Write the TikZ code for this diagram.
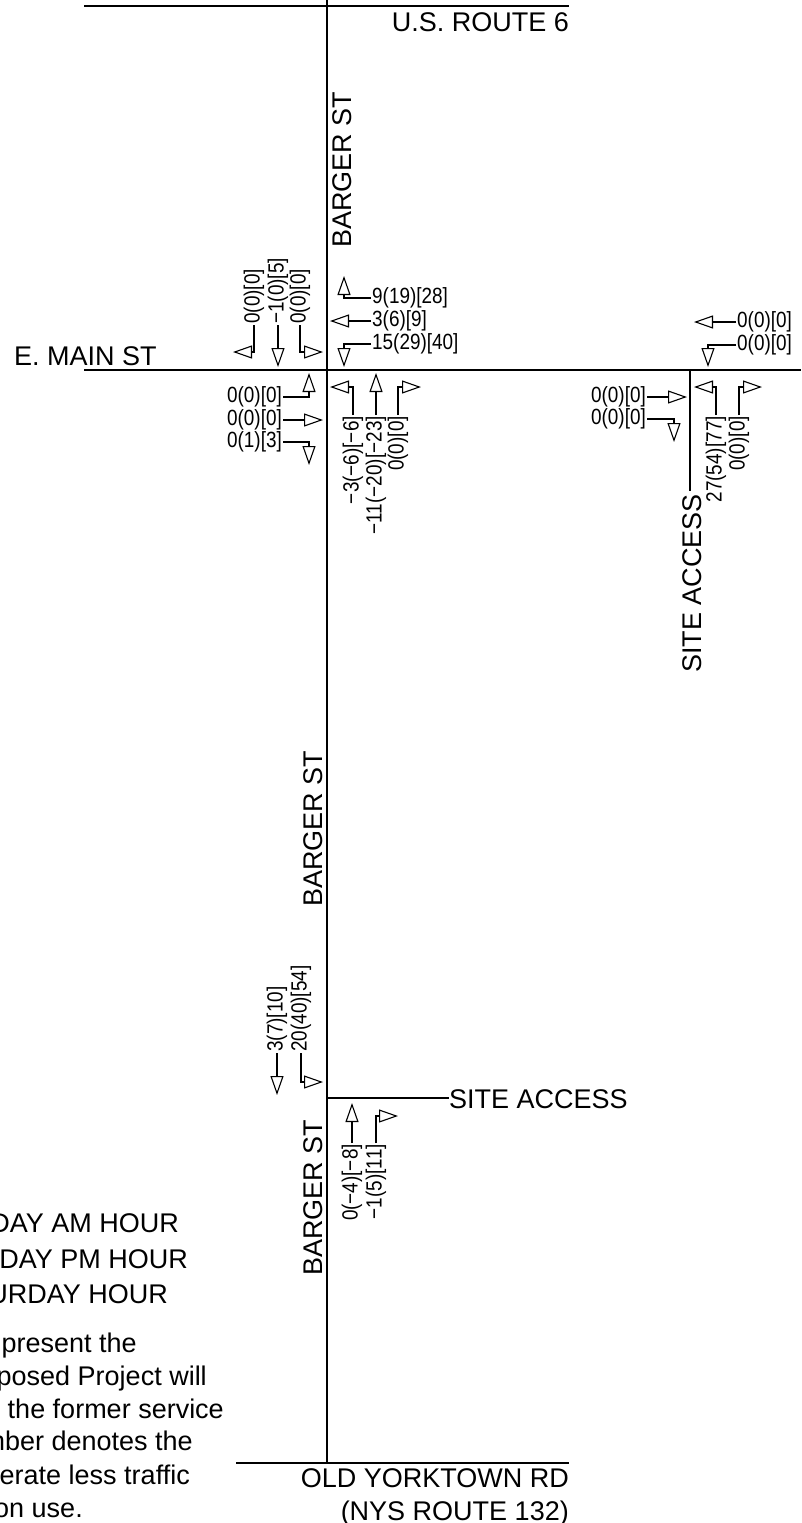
\documentclass[tikz,border=0pt]{standalone}
\usepackage{xcolor}
\usepackage{fontspec}
\setmainfont{Liberation Sans}
\newfontfamily\volfont[FakeStretch=0.86]{Liberation Sans}
\usetikzlibrary{arrows.meta, positioning}
\definecolor{mydark}{RGB}{0,0,0}
\tikzset{
  road/.style={line width=1.8pt, color=mydark},
  turnarrow/.style={-{Triangle[open, length=19pt, width=13pt, line width=1.1pt]}, line width=1.1pt, color=mydark},
  volume/.style={font=\volfont\fontsize{22}{23}\selectfont, inner sep=1pt, color=mydark},
  volup/.style={volume, rotate=90},
  streetname/.style={font=\fontsize{27}{29}\selectfont, inner sep=0pt, color=mydark},
  notetext/.style={font=\fontsize{27}{29}\selectfont, inner sep=0pt, color=mydark}
}
\begin{document}
\begin{tikzpicture}[x=1pt, y=-1pt]
  \useasboundingbox (0,0) rectangle (801,1523);
  \clip (0,0) rectangle (801,1523);

  % Roads
  \coordinate (routeWest) at (84,6);
  \coordinate (routeEast) at (569,6);
  \coordinate (bargerTop) at (327,0);
  \coordinate (bargerBottom) at (327,1463);
  \coordinate (yorktownWest) at (236,1463);
  \coordinate (yorktownEast) at (569,1463);
  \coordinate (mainWest) at (84,370);
  \coordinate (mainEast) at (801,370);
  \coordinate (accessTop) at (690,370);
  \coordinate (accessEnd) at (690,491);
  \coordinate (accessJoin) at (327,1098);
  \draw[road] (routeWest) -- (routeEast);
  \draw[road] (bargerTop) -- (bargerBottom);
  \draw[road] (yorktownWest) -- (yorktownEast);
  \draw[road] (mainWest) -- (mainEast);

  % Street names
  \node[streetname, anchor=base east] (routeSix) at (569,31) {U.S. ROUTE 6};
  \node[streetname, anchor=base west, rotate=90] (bargerNorth) at (351,248) {BARGER ST};
  \node[streetname, anchor=base west, rotate=90] (bargerMid) at (322,907) {BARGER ST};
  \node[streetname, anchor=base west, rotate=90] (bargerSouth) at (322,1276) {BARGER ST};
  \node[streetname, anchor=base west] (mainSt) at (14,365) {E. MAIN ST};
  \node[streetname, anchor=base west, rotate=90] (accessNorth) at (701,673) {SITE ACCESS};
  \node[streetname, anchor=base west] (accessEast) at (449,1108) {SITE ACCESS};
  \node[streetname, anchor=base east] (yorktown) at (569,1487) {OLD YORKTOWN RD};
  \node[streetname, anchor=base east] (nysRoute) at (569,1520) {(NYS ROUTE 132)};
  \draw[road] (accessTop) -- (accessEnd);
  \draw[road] (accessJoin) -- (accessEast.west |- accessJoin);

  % Legend and note
  \node[notetext, anchor=base east] (legendAm) at (179,1232) {DAY AM HOUR};
  \node[notetext, anchor=base east] (legendPm) at (188,1268) {DAY PM HOUR};
  \node[notetext, anchor=base east] (legendSat) at (168,1303) {URDAY HOUR};
  \node[notetext, anchor=base east] (noteOne) at (137,1352) {present the};
  \node[notetext, anchor=base east] (noteTwo) at (207,1385) {posed Project will};
  \node[notetext, anchor=base east] (noteThree) at (224,1418) {the former service};
  \node[notetext, anchor=base east] (noteFour) at (193,1450) {mber denotes the};
  \node[notetext, anchor=base east] (noteFive) at (190,1484) {erate less traffic};
  \node[notetext, anchor=base east] (noteSix) at (83,1517) {on use.};

  % Main intersection, east approach
  \node[volume, anchor=west] (eastUp) at (371,298) {9(19)[28]};
  \node[volume, anchor=west] (eastThru) at (371,321) {3(6)[9]};
  \node[volume, anchor=west] (eastDown) at (371,344) {15(29)[40]};
  \coordinate (eastUpTip) at (344,276);
  \coordinate (eastThruTip) at (330,321);
  \coordinate (eastDownTip) at (344,367);
  \draw[turnarrow] (eastUp.west) -| (eastUpTip);
  \draw[turnarrow] (eastThru.west) -- (eastThruTip);
  \draw[turnarrow] (eastDown.west) -| (eastDownTip);

  % Main intersection, north approach
  \node[volup, anchor=west] (northLeft) at (254,325) {0(0)[0]};
  \node[volup, anchor=west] (northThru) at (278,325) {−1(0)[5]};
  \node[volup, anchor=west] (northRight) at (300,325) {0(0)[0]};
  \coordinate (northLeftTip) at (233,352);
  \coordinate (northThruTip) at (278,367);
  \coordinate (northRightTip) at (323,352);
  \draw[turnarrow] (northLeft.west) |- (northLeftTip);
  \draw[turnarrow] (northThru.west) -- (northThruTip);
  \draw[turnarrow] (northRight.west) |- (northRightTip);

  % Main intersection, west approach
  \node[volume, anchor=east] (westUp) at (283,397) {0(0)[0]};
  \node[volume, anchor=east] (westThru) at (283,420) {0(0)[0]};
  \node[volume, anchor=east] (westDown) at (283,442) {0(1)[3]};
  \coordinate (westUpTip) at (309,373);
  \coordinate (westThruTip) at (323,420);
  \coordinate (westDownTip) at (309,465);
  \draw[turnarrow] (westUp.east) -| (westUpTip);
  \draw[turnarrow] (westThru.east) -- (westThruTip);
  \draw[turnarrow] (westDown.east) -| (westDownTip);

  % Main intersection, south approach
  \node[volup, anchor=east] (southLeft) at (353,415) {−3(−6)[−6]};
  \node[volup, anchor=east] (southThru) at (376,415) {−11(−20)[−23]};
  \node[volup, anchor=east] (southRight) at (398,415) {0(0)[0]};
  \coordinate (southLeftTip) at (330,387);
  \coordinate (southThruTip) at (376,373);
  \coordinate (southRightTip) at (421,387);
  \draw[turnarrow] (southLeft.east) |- (southLeftTip);
  \draw[turnarrow] (southThru.east) -- (southThruTip);
  \draw[turnarrow] (southRight.east) |- (southRightTip);

  % Site access on E. Main St
  \node[volume, anchor=west] (accessEastThru) at (736,322) {0(0)[0]};
  \node[volume, anchor=west] (accessEastDown) at (736,345) {0(0)[0]};
  \coordinate (accessEastThruTip) at (694,322);
  \coordinate (accessEastDownTip) at (708,367);
  \draw[turnarrow] (accessEastThru.west) -- (accessEastThruTip);
  \draw[turnarrow] (accessEastDown.west) -| (accessEastDownTip);
  \node[volume, anchor=east] (accessWestThru) at (647,397) {0(0)[0]};
  \node[volume, anchor=east] (accessWestDown) at (647,419) {0(0)[0]};
  \coordinate (accessWestThruTip) at (687,397);
  \coordinate (accessWestDownTip) at (674,442);
  \draw[turnarrow] (accessWestThru.east) -- (accessWestThruTip);
  \draw[turnarrow] (accessWestDown.east) -| (accessWestDownTip);
  \node[volup, anchor=east] (accessSouthLeft) at (716,415) {27(54)[77]};
  \node[volup, anchor=east] (accessSouthRight) at (739,415) {0(0)[0]};
  \coordinate (accessSouthLeftTip) at (694,387);
  \coordinate (accessSouthRightTip) at (762,387);
  \draw[turnarrow] (accessSouthLeft.east) |- (accessSouthLeftTip);
  \draw[turnarrow] (accessSouthRight.east) |- (accessSouthRightTip);

  % Site access on Barger St
  \node[volup, anchor=west] (bargerThru) at (277,1053) {3(7)[10]};
  \node[volup, anchor=west] (bargerRight) at (301,1053) {20(40)[54]};
  \coordinate (bargerThruTip) at (277,1095);
  \coordinate (bargerRightTip) at (323,1082);
  \draw[turnarrow] (bargerThru.west) -- (bargerThruTip);
  \draw[turnarrow] (bargerRight.west) |- (bargerRightTip);
  \node[volup, anchor=east] (siteThru) at (352,1143) {0(−4)[−8]};
  \node[volup, anchor=east] (siteRight) at (376,1143) {−1(5)[11]};
  \coordinate (siteThruTip) at (352,1103);
  \coordinate (siteRightTip) at (398,1116);
  \draw[turnarrow] (siteThru.east) -- (siteThruTip);
  \draw[turnarrow] (siteRight.east) |- (siteRightTip);
\end{tikzpicture}
\end{document}
